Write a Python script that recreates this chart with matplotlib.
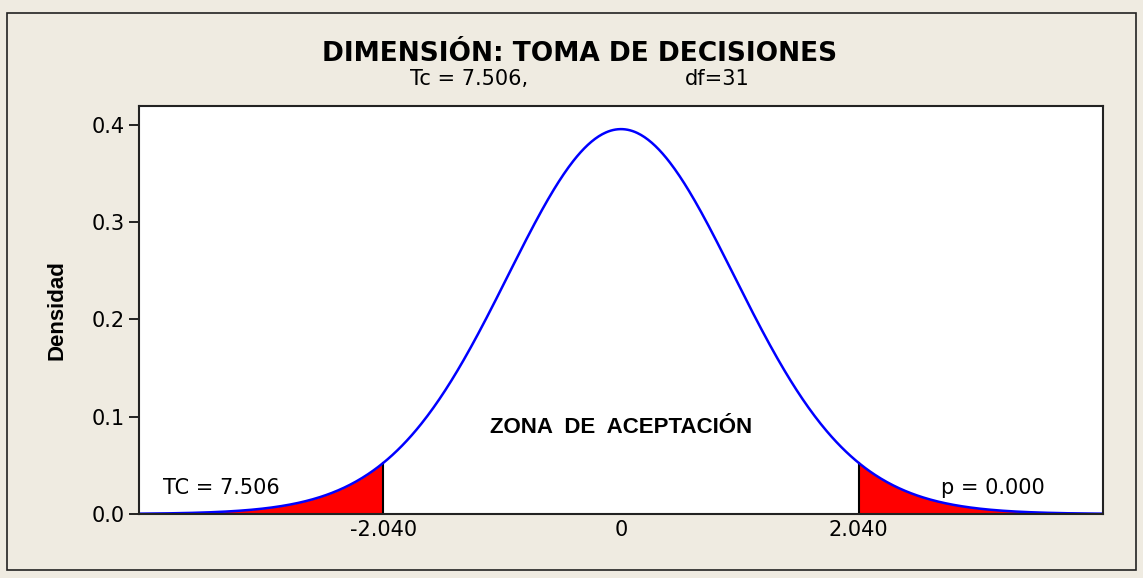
import math
import numpy as np
import matplotlib
matplotlib.use("Agg")
import matplotlib.pyplot as plt
from matplotlib.patches import Rectangle

# data
df_freedom = 31
t_crit = 2.040
x_limits = (-4.14, 4.14)
y_ticks = [0.0, 0.1, 0.2, 0.3, 0.4]
x_ticks = [-2.040, 0.0, 2.040]
x_tick_labels = ["-2.040", "0", "2.040"]
title = "DIMENSIÓN: TOMA DE DECISIONES"
sub_left = "Tc = 7.506,"
sub_right = "df=31"
left_note = "TC = 7.506"
right_note = "p = 0.000"
zone_label = "ZONA  DE  ACEPTACIÓN"

BG = "#efebe1"


def t_pdf(x, nu):
    c = math.gamma((nu + 1) / 2) / (math.sqrt(nu * math.pi) * math.gamma(nu / 2))
    return c * (1 + x ** 2 / nu) ** (-(nu + 1) / 2)


x = np.linspace(x_limits[0], x_limits[1], 800)
y = t_pdf(x, df_freedom)

fig = plt.figure(figsize=(11.43, 5.78), dpi=100, facecolor=BG)
fig.patches.append(Rectangle((0.0061, 0.0138), 0.9878, 0.9637, transform=fig.transFigure,
                             fill=False, edgecolor="#222222", linewidth=1.2))

ax = fig.add_axes([0.1216, 0.1107, 0.8434, 0.7059])
ax.set_facecolor("white")

left = x <= -t_crit
right = x >= t_crit
ax.fill_between(x[left], 0, y[left], color="red", linewidth=0)
ax.fill_between(x[right], 0, y[right], color="red", linewidth=0)
yc = t_pdf(t_crit, df_freedom)
ax.plot([-t_crit, -t_crit], [0, yc], color="black", linewidth=1.5)
ax.plot([t_crit, t_crit], [0, yc], color="black", linewidth=1.5)
ax.plot(x, y, color="blue", linewidth=1.8)

ax.set_xlim(*x_limits)
ax.set_ylim(0, 0.4195)
ax.set_yticks(y_ticks)
ax.set_yticklabels([f"{v:.1f}" for v in y_ticks])
ax.set_xticks(x_ticks)
ax.set_xticklabels(x_tick_labels)
ax.tick_params(axis="y", length=7, width=1.2, labelsize=15, pad=3)
ax.tick_params(axis="x", length=0, labelsize=15, pad=4)
for s in ax.spines.values():
    s.set_linewidth(1.5)
    s.set_color("#222222")

ax.set_ylabel("Densidad", fontsize=16, fontweight="bold",
              family=["Liberation Sans", "DejaVu Sans"])
ax.yaxis.set_label_coords(-0.074, 0.5)

fig.text(0.507, 0.895, title, ha="center", va="baseline", fontsize=19, fontweight="bold")
fig.text(410 / 1143, 1 - 85 / 578, sub_left, ha="left", va="baseline", fontsize=15)
fig.text(685 / 1143, 1 - 85 / 578, sub_right, ha="left", va="baseline", fontsize=15)

ax.text(-3.93, 0.021, left_note, ha="left", va="baseline", fontsize=15)
ax.text(2.75, 0.021, right_note, ha="left", va="baseline", fontsize=15)
ax.text(0.0, 0.083, zone_label, ha="center", va="baseline", fontsize=16,
        fontweight="bold", family=["Liberation Sans", "DejaVu Sans"])

fig.savefig("out.png", dpi=100, facecolor=BG)
